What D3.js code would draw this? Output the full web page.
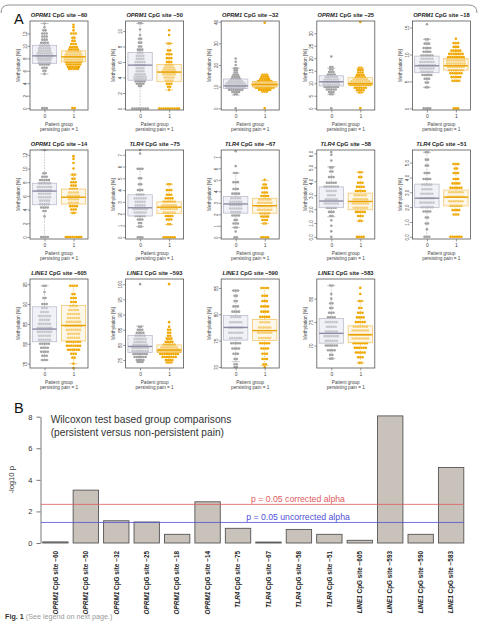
<!DOCTYPE html>
<html>
<head>
<meta charset="utf-8">
<script src="https://cdn.jsdelivr.net/npm/d3@7"></script>
<style>
  body { margin: 0; background: #fff; }
  svg { font-family: "Liberation Sans", Arial, sans-serif; }
</style>
</head>
<body>
<div id="chart"></div>
<script>
// ---- data ----
const genes = ["OPRM1", "OPRM1", "OPRM1", "OPRM1", "OPRM1", "OPRM1", "TLR4", "TLR4", "TLR4", "TLR4", "LINE1", "LINE1", "LINE1", "LINE1"];
const sites = [-60, -50, -32, -25, -18, -14, -75, -67, -58, -51, -605, -593, -590, -583];
const groupLabels = ["0", "1"];

// y range of every small panel (as drawn) and its tick labels
const yDomains = [[-0.3, 14], [-0.2, 11.3], [-0.8, 40.3], [-0.7, 34.9], [-0.3, 16.2],
                  [-0.3, 12.7], [-0.15, 7.4], [-0.15, 7.6], [-0.15, 6.25], [-0.15, 5.85],
                  [73.9, 96.3], [72.4, 101.7], [69.8, 86.7], [65.2, 84.2]];
const yTicks = [[0, 2, 4, 6, 8, 10, 12], [0, 2, 4, 6, 8, 10], [0, 10, 20, 30, 40], [0, 5, 10, 15, 20, 25, 30], [0, 5, 10, 15],
                [0, 2, 4, 6, 8, 10, 12], [0, 1, 2, 3, 4, 5, 6, 7], [0, 1, 2, 3, 4, 5, 6, 7], [0, 1, 2, 3, 4, 5, 6], [0, 1, 2, 3, 4, 5],
                [75, 80, 85, 90, 95], [75, 80, 85, 90, 95, 100], [70, 75, 80, 85], [70, 75, 80]];

// boxplot stats: [lower whisker, Q1, median, Q3, upper whisker]
const box0 = [[5.5, 7.2, 8.4, 10.1, 13.6], [0, 3.65, 5.6, 7.25, 11.0], [6.1, 9.2, 10.3, 13.5, 18.5], [5.6, 8.9, 10.6, 13.0, 16.0], [3.9, 6.6, 7.9, 9.7, 12.8],
              [0, 4.7, 6.7, 7.85, 12.7], [0.9, 1.8, 2.5, 3.6, 5.8], [0.85, 2.1, 2.9, 3.55, 5.6], [1.45, 2.1, 2.58, 3.6, 5.05], [0, 1.97, 2.6, 3.55, 5.7],
              [75.9, 80.5, 83.7, 89.3, 94.6], [74.4, 77.5, 79.5, 83.1, 86.2], [71.0, 75.1, 77.5, 79.8, 84.5], [67.2, 70.5, 72.6, 75.8, 82.8]];
const box1 = [[6.2, 7.45, 8.25, 9.2, 12.0], [2.4, 3.45, 4.7, 5.7, 8.4], [7.7, 9.8, 11.0, 12.3, 15.7], [6.3, 9.3, 9.8, 12.2, 16.0], [5.05, 7.1, 7.9, 9.25, 12.15],
              [3.55, 4.8, 5.8, 7.0, 9.1], [1.08, 2.0, 2.55, 3.0, 4.5], [1.2, 2.1, 2.75, 3.4, 4.95], [1.15, 1.95, 2.55, 3.15, 4.65], [1.5, 2.08, 2.67, 3.15, 4.9],
              [75.0, 80.7, 84.6, 89.6, 94.6], [74.2, 77.5, 78.3, 80.0, 82.5], [70.3, 75.0, 76.9, 79.0, 85.0], [66.3, 70.6, 72.3, 74.2, 79.5]];

// beeswarm rows: [methylation %, number of dots in the row]
const swarm0 = [
  [[0, 3], [5.5, 1], [6, 2], [6.5, 3], [7, 5], [7.3, 6], [7.7, 6], [8, 7], [8.4, 8], [8.8, 7], [9.2, 6], [9.6, 6], [10, 5], [10.5, 4], [11, 3], [11.5, 3], [12, 3], [12.5, 2], [13, 1], [13.6, 1]],
  [[0, 8], [2.9, 2], [3.2, 4], [3.5, 5], [3.8, 6], [4.1, 6], [4.4, 5], [4.8, 4], [5.2, 4], [5.6, 5], [6, 5], [6.4, 4], [6.8, 4], [7.2, 3], [7.6, 3], [8, 2], [8.5, 2], [9, 2], [9.5, 1], [10.2, 1], [11, 2]],
  [[0, 1], [6.5, 2], [7.5, 4], [8.5, 7], [9.5, 9], [10.5, 10], [11.5, 9], [12.5, 7], [13.5, 5], [14.5, 4], [15.5, 3], [16.5, 2], [17.5, 2], [18.5, 2], [20, 1], [21.5, 1], [23, 1]],
  [[0, 1], [5.6, 2], [6.5, 3], [7.5, 5], [8.5, 7], [9.5, 8], [10.5, 8], [11.5, 7], [12.5, 6], [13.5, 4], [14.5, 3], [15.5, 2], [16.5, 2], [20.7, 1]],
  [[0, 4], [3.9, 2], [4.8, 2], [5.5, 3], [6.2, 5], [6.8, 6], [7.4, 7], [8, 8], [8.6, 7], [9.2, 6], [9.8, 6], [10.5, 4], [11.2, 4], [12, 3], [12.8, 2], [15.6, 1]],
  [[0, 4], [3, 1], [3.8, 2], [4.3, 4], [4.8, 5], [5.3, 5], [5.8, 6], [6.3, 6], [6.8, 7], [7.3, 7], [7.8, 6], [8.3, 5], [8.8, 3], [9.3, 2], [12.7, 1]],
  [[0, 3], [0.9, 2], [1.2, 2], [1.5, 3], [1.8, 5], [2.1, 6], [2.4, 7], [2.7, 5], [3, 5], [3.3, 6], [3.6, 4], [4, 3], [4.5, 2], [5, 2], [5.8, 3], [7.1, 1], [7.4, 1]],
  [[0, 2], [0.5, 1], [0.85, 2], [1.2, 3], [1.5, 2], [1.9, 4], [2.2, 5], [2.5, 6], [2.8, 6], [3.1, 6], [3.4, 5], [3.8, 4], [4.2, 3], [4.8, 3], [5.6, 2], [6.2, 1], [7.5, 1]],
  [[0, 1], [0.4, 1], [0.8, 1], [1.2, 1], [1.5, 2], [1.8, 3], [2.1, 5], [2.4, 7], [2.7, 6], [3, 4], [3.3, 5], [3.6, 7], [3.9, 5], [4.3, 3], [4.7, 2], [5, 2], [5.5, 1], [5.9, 1], [6.1, 1]],
  [[0, 3], [0.5, 1], [0.9, 2], [1.3, 2], [1.7, 4], [2, 6], [2.3, 7], [2.6, 7], [2.9, 6], [3.2, 5], [3.5, 5], [3.9, 4], [4.3, 3], [4.8, 2], [5.2, 2], [5.7, 2]],
  [[75.9, 3], [77, 3], [78, 4], [79, 4], [80, 5], [81, 6], [82, 6], [83, 7], [84, 7], [85, 6], [86, 5], [87, 6], [88, 4], [89, 3], [90, 3], [91.5, 2], [93, 1], [94.6, 2]],
  [[74.4, 3], [75, 4], [76, 6], [77, 7], [78, 8], [79, 8], [80, 7], [81, 6], [82, 6], [83, 5], [84, 4], [85, 3], [86, 2], [100, 1]],
  [[70, 2], [70.5, 2], [71.5, 2], [72.5, 3], [73.5, 4], [74.5, 5], [75.5, 6], [76.5, 7], [77.5, 7], [78.5, 6], [79.5, 5], [80.5, 4], [81.5, 3], [82.5, 2], [83.5, 2], [84.5, 3]],
  [[67.2, 2], [68, 2], [69, 4], [70, 6], [71, 6], [72, 7], [73, 6], [74, 5], [75, 6], [76, 4], [77, 3], [78, 2], [79, 2], [80, 1], [81, 1], [82.8, 2]]
];
const swarm1 = [
  [[0, 2], [6.3, 5], [6.6, 6], [7, 7], [7.4, 8], [7.8, 9], [8.2, 9], [8.6, 8], [9, 7], [9.4, 5], [9.8, 4], [10.3, 3], [10.8, 2], [11.3, 2], [12, 3], [12.5, 1], [13, 1], [13.4, 1]],
  [[0, 10], [2.4, 1], [2.8, 2], [3.2, 3], [3.6, 4], [4, 5], [4.4, 6], [4.7, 7], [5, 6], [5.3, 5], [5.6, 4], [6, 3], [6.5, 3], [7, 3], [7.5, 2], [8.4, 2], [9.5, 1], [10.1, 1]],
  [[0, 1], [7.7, 3], [8.5, 6], [9.5, 9], [10.3, 11], [11, 12], [11.8, 10], [12.6, 7], [13.5, 5], [14.5, 4], [15.5, 3], [39.5, 1]],
  [[0, 1], [6.3, 2], [7.2, 4], [8.2, 6], [9.3, 10], [10, 11], [10.8, 9], [11.6, 7], [12.4, 5], [13.3, 4], [14.3, 3], [15.3, 3], [16.2, 2], [34.5, 1]],
  [[0, 3], [5.1, 4], [5.8, 5], [6.5, 6], [7.1, 7], [7.7, 8], [8.3, 9], [8.9, 9], [9.5, 8], [10.1, 7], [10.7, 5], [11.4, 3], [12.1, 3], [12.9, 1]],
  [[0, 8], [3.5, 2], [4, 3], [4.5, 4], [5, 5], [5.5, 5], [6, 6], [6.5, 5], [7, 4], [7.5, 3], [8, 3], [8.5, 2], [9.1, 2], [10, 1], [10.8, 1], [11.4, 1], [11.8, 1]],
  [[0, 6], [1.1, 2], [1.5, 3], [1.8, 4], [2.1, 6], [2.4, 8], [2.7, 7], [3, 6], [3.3, 4], [3.6, 3], [4, 3], [4.5, 2]],
  [[0, 4], [1.2, 2], [1.5, 3], [1.8, 4], [2.1, 5], [2.4, 7], [2.7, 7], [3, 7], [3.3, 6], [3.6, 4], [3.9, 3], [4.3, 3], [4.6, 2], [5, 1]],
  [[0, 4], [1.15, 2], [1.5, 3], [1.8, 5], [2.1, 7], [2.4, 8], [2.7, 7], [3, 6], [3.3, 5], [3.6, 4], [3.9, 3], [4.3, 2], [4.65, 2]],
  [[0, 6], [1.5, 3], [1.8, 4], [2.1, 6], [2.4, 7], [2.7, 8], [3, 7], [3.3, 6], [3.6, 4], [3.9, 3], [4.3, 3], [4.6, 2], [4.9, 3]],
  [[73.9, 1], [75, 1], [76.5, 2], [77.5, 3], [78.5, 6], [79.5, 7], [80.5, 7], [81.5, 6], [82.5, 6], [83.5, 7], [84.5, 8], [85.5, 7], [86.5, 6], [87.5, 6], [88.5, 5], [89.5, 4], [90.5, 3], [91.5, 3], [92.5, 2], [94.6, 4]],
  [[74.2, 3], [75, 4], [76, 7], [77, 9], [77.8, 11], [78.5, 10], [79.2, 8], [80, 6], [81, 4], [82, 3], [83, 2], [84, 2], [85, 2], [86, 1], [87.5, 1], [100, 1]],
  [[70, 1], [70.5, 2], [71.5, 3], [72.5, 3], [73.5, 4], [74.5, 5], [75.5, 6], [76.5, 7], [77.5, 6], [78.5, 5], [79.5, 5], [80.5, 4], [81.5, 4], [82.5, 3], [83.5, 3], [85, 4]],
  [[66.3, 2], [67.5, 3], [68.5, 5], [69.5, 6], [70.5, 7], [71.5, 8], [72.3, 9], [73.2, 8], [74, 7], [75, 5], [76, 4], [77, 3], [78, 2], [79.5, 2], [81, 1], [82.3, 1]]
];

// panel B: Wilcoxon test, -log10 p per CpG site
const negLog10P = [0.07, 3.35, 1.41, 1.33, 0.55, 2.61, 0.93, 0.06, 0.86, 0.55, 0.17, 8.05, 0.55, 4.78];
const alphaUncorrected = 0.05;
const alphaCorrected = 0.05 / sites.length;
const bTicks = [0, 2, 4, 6, 8];

// ---- drawing ----
const W = 478, H = 622;
const svg = d3.select("#chart").append("svg").attr("width", W).attr("height", H);

const col0 = { pt: "#a2a2a2", stroke: "#b6b6c8", fill: "#e6e6f3", med: "#8c8ca4", whisk: "#a8a8b0" };
const col1 = { pt: "#f0a800", stroke: "#f2c25c", fill: "#fcf1d8", med: "#e9a000", whisk: "#f0b840" };

function siteText(sel, gene, site) {
  sel.append("tspan").attr("font-style", "italic").text(gene);
  sel.append("tspan").text(" CpG site \u2212" + Math.abs(site));
}

// rounded frame at the top of the page
svg.append("path")
  .attr("d", "M1,13 Q1,5 9,5 H469 Q477,5 477,13")
  .attr("fill", "none").attr("stroke", "#777").attr("stroke-width", 0.8);

svg.append("text").attr("x", 14).attr("y", 23.5).style("font-size", "14.5px").attr("fill", "#111").text("A");

const cellW = 95.6, plotW = 58, plotH = 89;
const rowTops = [21, 150, 279];

sites.forEach((site, i) => {
  const row = Math.floor(i / 5), col = i % 5;
  const left = col * cellW + 30, top = rowTops[row];
  const g = svg.append("g").attr("transform", `translate(${left},${top})`);

  const x = d3.scaleLinear().domain([0.5, 2.5]).range([0, plotW]);
  const y = d3.scaleLinear().domain(yDomains[i]).range([plotH, 0]);

  // title
  g.append("text")
    .attr("x", plotW / 2).attr("y", -4)
    .attr("text-anchor", "middle")
    .style("font-size", "5.7px").style("font-weight", "bold").attr("fill", "#222")
    .call(siteText, genes[i], site);

  // y axis with rotated labels
  const ya = g.append("g").call(d3.axisLeft(y).tickValues(yTicks[i]).tickSize(2.5).tickSizeOuter(0));
  ya.select(".domain").remove();
  ya.selectAll("line").attr("stroke", "#555").attr("stroke-width", 0.6);
  ya.selectAll("text")
    .attr("x", 0).attr("y", -3.4).attr("dy", null)
    .attr("text-anchor", "middle")
    .attr("transform", "rotate(-90)")
    .style("font-size", "4.6px").attr("fill", "#444");

  g.append("text")
    .attr("transform", `translate(-10.2,${plotH / 2}) rotate(-90)`)
    .attr("text-anchor", "middle")
    .style("font-size", "4.8px").attr("fill", "#444")
    .text("Methylation [%]");

  // x axis
  const xa = g.append("g").attr("transform", `translate(0,${plotH})`)
    .call(d3.axisBottom(x).tickValues([1, 2]).tickFormat((d, k) => groupLabels[k]).tickSize(2.5).tickSizeOuter(0));
  xa.select(".domain").remove();
  xa.selectAll("line").attr("stroke", "#555").attr("stroke-width", 0.6);
  xa.selectAll("text").attr("y", 7.5).attr("dy", null).style("font-size", "5px").attr("fill", "#444");

  g.append("text").attr("x", plotW / 2).attr("y", plotH + 15.5).attr("text-anchor", "middle")
    .style("font-size", "4.7px").attr("fill", "#444").text("Patient group");
  g.append("text").attr("x", plotW / 2).attr("y", plotH + 20.6).attr("text-anchor", "middle")
    .style("font-size", "4.7px").attr("fill", "#444").text("persisting pain = 1");

  [[swarm0[i], box0[i], col0], [swarm1[i], box1[i], col1]].forEach(([bins, st, c], k) => {
    const cx = x(k + 1);
    const bw = x(1.42) - x(1);

    // dots
    const pts = [];
    bins.forEach(([v, n]) => {
      for (let j = 0; j < n; j++) pts.push({ v, off: j - (n - 1) / 2 });
    });
    g.append("g").selectAll("circle").data(pts).join("circle")
      .attr("cx", d => cx + d.off * 2.2)
      .attr("cy", d => y(d.v))
      .attr("r", 1.3)
      .attr("fill", c.pt);

    // whiskers
    [[st[0], st[1]], [st[3], st[4]]].forEach(([a, b]) => {
      g.append("line").attr("x1", cx).attr("x2", cx).attr("y1", y(a)).attr("y2", y(b))
        .attr("stroke", c.whisk).attr("stroke-width", 0.6).attr("stroke-dasharray", "1.6,1.2");
    });
    [st[0], st[4]].forEach(v => {
      g.append("line").attr("x1", cx - 4).attr("x2", cx + 4).attr("y1", y(v)).attr("y2", y(v))
        .attr("stroke", c.whisk).attr("stroke-width", 0.7);
    });

    // box
    g.append("rect")
      .attr("x", cx - bw).attr("width", 2 * bw)
      .attr("y", y(st[3])).attr("height", y(st[1]) - y(st[3]))
      .attr("fill", c.fill).attr("fill-opacity", 0.55)
      .attr("stroke", c.stroke).attr("stroke-width", 0.7);
    g.append("line")
      .attr("x1", cx - bw).attr("x2", cx + bw).attr("y1", y(st[2])).attr("y2", y(st[2]))
      .attr("stroke", c.med).attr("stroke-width", 1.4);
  });

  g.append("rect").attr("width", plotW).attr("height", plotH)
    .attr("fill", "none").attr("stroke", "#555").attr("stroke-width", 0.8);
});

// ---- panel B ----
svg.append("text").attr("x", 14).attr("y", 413).style("font-size", "14.5px").attr("fill", "#111").text("B");

const yB = d3.scaleLinear().domain([0, 8]).range([543, 416.7]);
const xB = d3.scaleBand().domain(d3.range(sites.length)).range([42.7, 463.8]).paddingInner(1 / 6).paddingOuter(0);

const yAxisB = svg.append("g").attr("transform", "translate(40.5,0)")
  .call(d3.axisLeft(yB).tickValues(bTicks).tickSize(4).tickSizeOuter(0));
yAxisB.select(".domain").attr("stroke", "#555").attr("stroke-width", 0.8);
yAxisB.selectAll("line").attr("stroke", "#555").attr("stroke-width", 0.8);
yAxisB.selectAll("text").attr("x", -8).style("font-size", "7.5px").attr("fill", "#333");

svg.append("text")
  .attr("transform", `translate(14,${(yB(0) + yB(8)) / 2}) rotate(-90)`)
  .attr("text-anchor", "middle")
  .style("font-size", "7.6px").attr("fill", "#333")
  .text("-log10 p");

svg.append("g").selectAll("rect").data(negLog10P).join("rect")
  .attr("x", (d, i) => xB(i))
  .attr("width", xB.bandwidth())
  .attr("y", d => yB(d))
  .attr("height", d => yB(0) - yB(d))
  .attr("fill", "#c9c2ba")
  .attr("stroke", "#555")
  .attr("stroke-width", 0.9);

const lines = [
  { v: -Math.log10(alphaCorrected), color: "#e05a5a", text: "p = 0.05 corrected alpha" },
  { v: -Math.log10(alphaUncorrected), color: "#5050d8", text: "p = 0.05 uncorrected alpha" }
];
lines.forEach(l => {
  svg.append("line")
    .attr("x1", 41).attr("x2", xB(sites.length - 1) + xB.bandwidth())
    .attr("y1", yB(l.v)).attr("y2", yB(l.v))
    .attr("stroke", l.color).attr("stroke-width", 0.8);
  svg.append("text")
    .attr("x", 298).attr("y", yB(l.v) - 2.6)
    .attr("text-anchor", "middle")
    .style("font-size", "8.7px").attr("fill", l.color)
    .text(l.text);
});

svg.append("text").attr("x", 50.7).attr("y", 423)
  .style("font-size", "10.2px").attr("fill", "#333")
  .text("Wilcoxon test based group comparisons");
svg.append("text").attr("x", 50.7).attr("y", 435.6)
  .style("font-size", "10.2px").attr("fill", "#333")
  .text("(persistent versus non-persistent pain)");

sites.forEach((site, i) => {
  svg.append("text")
    .attr("transform", `translate(${xB(i) + xB.bandwidth() / 2},551) rotate(-90)`)
    .attr("text-anchor", "end")
    .attr("dy", "0.35em")
    .style("font-size", "6.4px").style("font-weight", "bold").attr("fill", "#222")
    .call(siteText, genes[i], site);
});

// caption
const cap = svg.append("text").attr("x", 5).attr("y", 619.3).style("font-size", "7.2px");
cap.append("tspan").style("font-weight", "bold").attr("fill", "#333").text("Fig. 1");
cap.append("tspan").attr("fill", "#999").text(" (See legend on next page.)");
</script>
</body>
</html>
